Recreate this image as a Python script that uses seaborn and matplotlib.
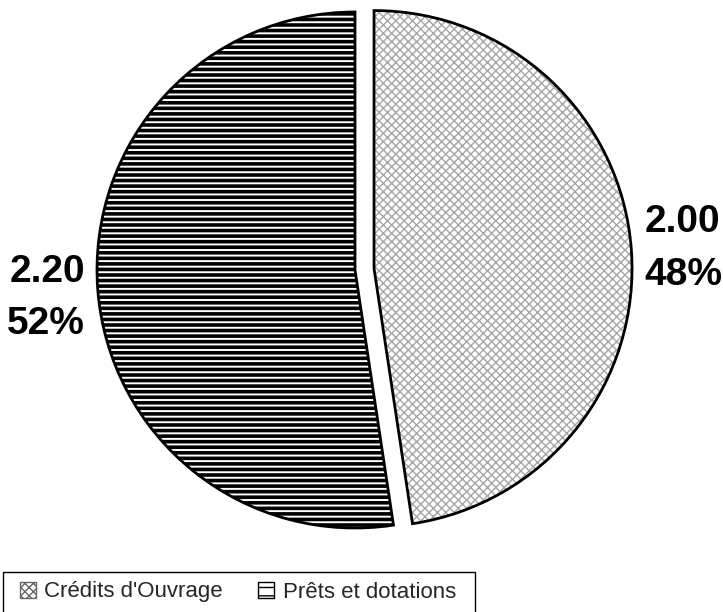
import matplotlib
matplotlib.use('Agg')
import matplotlib.pyplot as plt
import matplotlib.patches as mpatches
import seaborn as sns

# Data
categories = ["Crédits d'Ouvrage", "Prêts et dotations"]
values = [2.00, 2.20]
hatches = ['xxxx', '---']
hatch_colors = ['#a6a6a6', 'black']
hatch_widths = [1.0, 2.6]
explode = [0.074, 0.0]

sns.set_theme(style='white')
plt.rcParams['font.family'] = ['Liberation Sans', 'DejaVu Sans']

total = sum(values)
labels = [f"{v:.2f}\n{v / total * 100:.0f}%" for v in values]

fig = plt.figure(figsize=(7.23, 6.12), dpi=100)
ax = fig.add_axes([0, 0, 1, 1])

# hatched fills, one wedge at a time so each keeps its own hatch colour/width
for i in range(len(values)):
    plt.rcParams['hatch.linewidth'] = hatch_widths[i]
    wedges, _ = ax.pie(values, explode=explode, startangle=90, counterclock=False,
                       colors=['none'] * len(values), wedgeprops=dict(linewidth=0))
    for j, w in enumerate(wedges):
        if j != i:
            w.remove()
        else:
            w.set_facecolor('white')
            w.set_edgecolor(hatch_colors[i])
            w.set_hatch(hatches[i])
            if hasattr(w, 'set_hatch_linewidth'):
                w.set_hatch_linewidth(hatch_widths[i])

# black outlines + value labels
_, texts = ax.pie(values, explode=explode, startangle=90, counterclock=False,
                  labels=labels, labeldistance=1.05,
                  wedgeprops=dict(fill=False, edgecolor='black', linewidth=2),
                  textprops=dict(fontsize=28, fontweight='bold', color='black',
                                 linespacing=1.6))
x, y = texts[1].get_position()
texts[1].set_position((x, y - 0.03))

ax.set_xlim(-355 / 258, 368 / 258)
ax.set_ylim(-342 / 258, 270 / 258)
ax.set_aspect('auto')
ax.axis('off')

# legend frame (wider side padding than a matplotlib legend gives)
frame = mpatches.Rectangle((3 / 723, -0.05), 472 / 723, 0.05 + 1 - 572 / 612,
                           transform=fig.transFigure, facecolor='white',
                           edgecolor='black', linewidth=1.0)
fig.add_artist(frame)

plt.rcParams['hatch.linewidth'] = 1.0
handles = [
    mpatches.Patch(facecolor='white', edgecolor='#666666', hatch='xxxx', label=categories[0]),
    mpatches.Patch(facecolor='white', edgecolor='black', hatch='--', label=categories[1]),
]
for h in handles:
    if hasattr(h, 'set_hatch_linewidth'):
        h.set_hatch_linewidth(1.0)
leg = fig.legend(handles=handles, loc='center', ncol=2, mode='expand',
                 bbox_to_anchor=(20 / 723, 1 - 602 / 612, 436 / 723, 20 / 612),
                 borderaxespad=0, borderpad=0, fontsize=16, frameon=False,
                 handlelength=0.7, handleheight=0.7, handletextpad=0.4)

fig.savefig('out.png', dpi=100, facecolor='white')
